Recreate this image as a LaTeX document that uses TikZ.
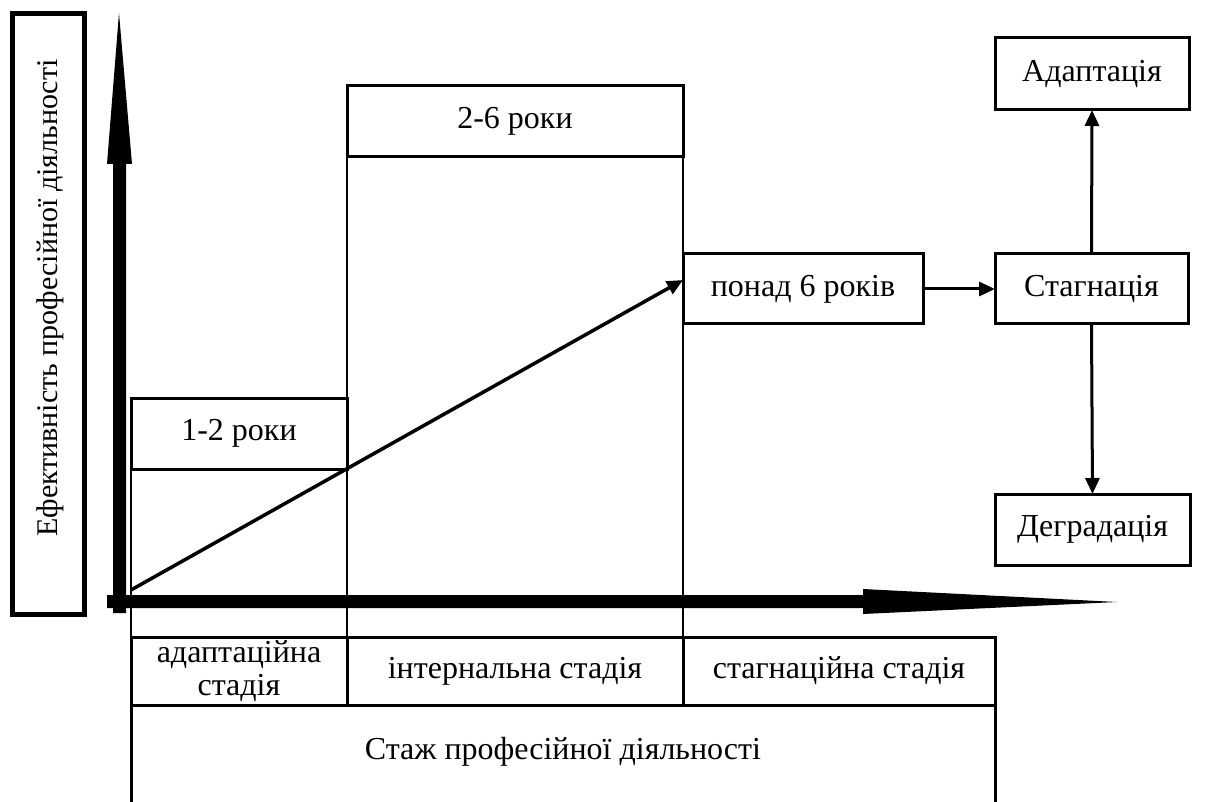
\documentclass[tikz,border=0pt]{standalone}
\usepackage{fontspec}
\setmainfont{Liberation Serif}
\usetikzlibrary{arrows.meta}
\begin{document}
\begin{tikzpicture}[x=1pt,y=-1pt,
  txt/.style={font=\fontsize{32}{33}\selectfont,align=center,inner sep=0pt},
  box/.style={draw,line width=3pt,inner sep=0pt,outer sep=0pt,txt},
  thinline/.style={line width=1.5pt},
  conn/.style={line width=3pt,-{Triangle[length=16pt,width=14pt]}},
]
\useasboundingbox (0,0) rectangle (1213,802);
% left label box
\node[draw,line width=5pt,minimum width=72pt,minimum height=600pt,inner sep=0pt,outer sep=0pt] (effbox) at (48,314) {};
\node[txt,font=\fontsize{30}{32}\selectfont,rotate=90] (efflabel) at (50,298) {Ефективність професійної діяльності};
% boxes
\node[box,minimum width=216pt,minimum height=71pt] (b12) at (239,433.5) {1-2 роки};
\node[box,minimum width=336pt,minimum height=71pt] (b26) at (515,121.5) {2-6 роки};
\node[box,minimum width=240pt,minimum height=70pt] (b6) at (803,289) {понад 6 років};
\node[box,minimum width=193pt,minimum height=70pt] (stag) at (1091.5,289) {Стагнація};
\node[box,minimum width=194pt,minimum height=72pt] (adapt) at (1092,74) {Адаптація};
\node[box,minimum width=195pt,minimum height=71pt] (degr) at (1092.5,529.5) {Деградація};
\node[box,minimum width=216pt,minimum height=68pt] (st1) at (239,671) {адаптаційна\\стадія};
\node[box,minimum width=336pt,minimum height=68pt] (st2) at (515,671) {інтернальна стадія};
\node[box,minimum width=312pt,minimum height=68pt] (st3) at (839,671) {стагнаційна стадія};
\node[draw,line width=3pt,minimum width=864pt,minimum height=125pt,inner sep=0pt,outer sep=0pt] (stazh) at (563,767.5) {};
\node[txt] (stazhlabel) at (563,752) {Стаж професійної діяльності};
% thin verticals
\draw[thinline] (b12.south west) -- (st1.north west);
\draw[thinline] (b26.south west) -- (st2.north west);
\draw[thinline] (b26.south east) -- (b6.north west);
\draw[thinline] (b6.south west) -- (st3.north west);
% axes
\coordinate (ytip) at (119,13);
\coordinate (xtip) at (1117,602);
\fill (113,164) -- (107,164) -- (ytip) -- (132,164) -- (126,164) -- (126,613) -- (113,613) -- cycle;
\fill (107,595) -- (863,595) -- (863,589) -- (xtip) -- (863,614) -- (863,608) -- (107,608) -- cycle;
% diagonal
\coordinate (dstart) at (131,590);
\draw[conn,line width=3.5pt] (dstart) -- ([yshift=9pt]b6.west);
% connectors
\draw[conn] (b6.east) -- (stag.west);
\draw[conn] (stag.north) -- (adapt.south);
\draw[conn] (stag.south) -- (degr.north);
\end{tikzpicture}
\end{document}
